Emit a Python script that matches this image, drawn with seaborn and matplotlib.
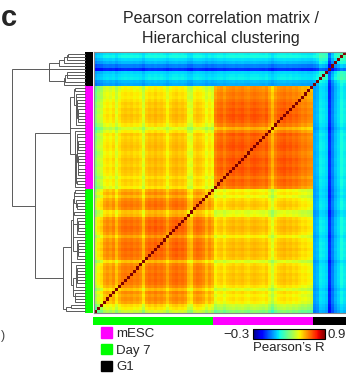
import numpy as np
import pandas as pd
import matplotlib
matplotlib.use("Agg")
import matplotlib.pyplot as plt
import seaborn as sns
from matplotlib.colors import ListedColormap
from matplotlib.patches import Patch

sns.set_theme(style="white")
plt.rcParams["font.family"] = ["Liberation Sans", "DejaVu Sans"]

# ---------------- data ----------------
groups = ["Day 7", "mESC", "G1"]                 # column order, left -> right
group_colors = ["#00FF00", "#FF00FF", "#000000"]
legend_labels = ["mESC", "Day 7", "G1"]
legend_colors = ["#FF00FF", "#00FF00", "#000000"]

# typical Pearson R between / within groups
block_r = [[0.69, 0.575, 0.16],
           [0.575, 0.70, 0.16],
           [0.16, 0.16, 0.25]]

# per-sample drop in correlation (visible as light stripes), column order
day7_dev = [0.25, 0.18, 0.15, 0.08, 0.06, 0.08, 0.05, 0.12, 0.06, 0.03,
            0.02, 0.03, 0.02, 0.04, 0.03, 0.05, 0.12, 0.03, 0.01, 0.02,
            0.00, 0.02, 0.01, 0.03, 0.08, 0.03, 0.01, 0.00, 0.02, 0.01,
            0.03, 0.10, 0.12, 0.04, 0.02, 0.03, 0.05, 0.10, 0.06, 0.09]
mesc_dev = [0.06, 0.03, 0.02, 0.05, 0.02, 0.01, 0.00, 0.02, 0.01, 0.00,
            0.02, 0.03, 0.01, 0.00, 0.01, 0.02, 0.03, 0.01, 0.06, 0.12,
            0.05, 0.02, 0.01, 0.00, 0.02, 0.01, 0.03, 0.02, 0.04, 0.06,
            0.05, 0.07, 0.08]
g1_dev = [0.10, 0.08, 0.02, 0.03, 0.05, 0.25, 0.15, 0.08, 0.04, 0.00, 0.02]
g1_cross_weight = 0.3

# dendrogram heights of group roots and joins
dendro_root = {"Day 7": 22, "mESC": 15, "G1": 36}
join_md = 50     # mESC + Day 7
join_all = 73    # (mESC + Day 7) + G1

vmin, vmax = -0.3, 0.9

# ---------------- build matrix ----------------
devs = [day7_dev, mesc_dev, g1_dev]
g = np.concatenate([[k] * len(d) for k, d in enumerate(devs)])
dev = np.concatenate([np.array(d, float) for d in devs])
n = len(g)
B = np.array(block_r)[g][:, g]
R = B - dev[:, None] - dev[None, :]
isg = g == 2
cross = isg[:, None] ^ isg[None, :]
wdev = np.where(isg, dev, g1_cross_weight * dev)
Rc = B - wdev[:, None] - wdev[None, :]
R = np.where(cross, Rc, R)
np.fill_diagonal(R, 1.0)

# ---------------- ordered average-linkage within groups ----------------
Dm = np.sqrt(((R[:, None, :] - R[None, :, :]) ** 2).sum(-1))


def ordered_linkage(idx):
    clusters = [dict(m=[i], y=i + 0.5, h=0.0) for i in idx]
    merges = []
    while len(clusters) > 1:
        ds = [Dm[np.ix_(clusters[k]["m"], clusters[k + 1]["m"])].mean()
              for k in range(len(clusters) - 1)]
        k = int(np.argmin(ds))
        a, b = clusters[k], clusters[k + 1]
        h = max(ds[k], a["h"], b["h"])
        merges.append([a["y"], a["h"], b["y"], b["h"], h])
        clusters[k:k + 2] = [dict(m=a["m"] + b["m"], y=(a["y"] + b["y"]) / 2, h=h)]
    return merges, clusters[0]


segs = []
roots = {}
for k, name in enumerate(groups):
    idx = list(np.where(g == k)[0])
    merges, root = ordered_linkage(idx)
    s = dendro_root[name] / root["h"]
    for ya, ha, yb, hb, h in merges:
        segs.append((ya, ha * s, yb, hb * s, h * s))
    roots[name] = (root["y"], dendro_root[name])

yd, hd = roots["Day 7"]
ym, hm = roots["mESC"]
yg, hg = roots["G1"]
segs.append((yd, hd, ym, hm, join_md))
ymd = (yd + ym) / 2
segs.append((ymd, join_md, yg, hg, join_all))

# ---------------- figure ----------------
W, H = 346, 375
fig = plt.figure(figsize=(W / 100, H / 100), dpi=100)


def px_axes(x0, y0, x1, y1):
    return fig.add_axes([x0 / W, 1 - y1 / H, (x1 - x0) / W, (y1 - y0) / H])


ax = px_axes(94, 52, 346, 313)
df = pd.DataFrame(R[::-1])
sns.heatmap(df, ax=ax, cmap="jet", vmin=vmin, vmax=vmax, cbar=False,
            xticklabels=False, yticklabels=False)
for sp in ax.spines.values():
    sp.set_visible(True)
    sp.set_color("#888888")
    sp.set_linewidth(0.8)

# row colours
axr = px_axes(85, 52, 93, 313)
cmap_g = ListedColormap(group_colors)
sns.heatmap(pd.DataFrame(g[::-1][:, None]), ax=axr, cmap=cmap_g, vmin=-0.5,
            vmax=2.5, cbar=False, xticklabels=False, yticklabels=False)
# column colours
axc = px_axes(93, 317, 346, 325)
sns.heatmap(pd.DataFrame(g[None, :]), ax=axc, cmap=cmap_g, vmin=-0.5,
            vmax=2.5, cbar=False, xticklabels=False, yticklabels=False)

# dendrogram
axd = px_axes(12, 52, 85, 313)
for ya, ha, yb, hb, h in segs:
    axd.plot([ha, h, h, hb], [ya, ya, yb, yb], color="#5a5a5a", lw=0.7,
             solid_joinstyle="miter", clip_on=False)
axd.set_xlim(join_all, 0)
axd.set_ylim(0, n)
axd.axis("off")

# colour bar
cax = px_axes(253, 329, 325, 339)
cb = fig.colorbar(ax.collections[0], cax=cax, orientation="horizontal", ticks=[])
cb.outline.set_linewidth(0.8)
cb.outline.set_edgecolor("black")
fs = 9.5
fig.text(250 / W, 1 - 334.5 / H, "\u22120.3", ha="right", va="center", fontsize=fs)
fig.text(327 / W, 1 - 334.5 / H, "0.9", ha="left", va="center", fontsize=fs)
fig.text(289 / W, 1 - 342 / H, "Pearson\u2019s R", ha="center", va="top", fontsize=fs)

# legend
handles = [Patch(facecolor=c, edgecolor=c) for c in legend_colors]
fig.legend(handles, legend_labels, loc="upper left",
           bbox_to_anchor=(101 / W, 1 - 327 / H), frameon=False, fontsize=fs,
           handlelength=0.85, handleheight=0.85, handletextpad=0.3,
           labelspacing=0.3, borderpad=0, borderaxespad=0)

# titles / labels
fig.text(221 / W, 1 - 23 / H, "Pearson correlation matrix /", ha="center",
         va="baseline", fontsize=11.5)
fig.text(221 / W, 1 - 43 / H, "Hierarchical clustering", ha="center",
         va="baseline", fontsize=11.5)
fig.text(0.5 / W, 1 - 26 / H, "c", ha="left", va="baseline", fontsize=21,
         fontweight="bold")
fig.text(0.5 / W, 1 - 336 / H, ")", ha="left", va="center", fontsize=9,
         color="#444444")

fig.savefig("out.png", dpi=100)
